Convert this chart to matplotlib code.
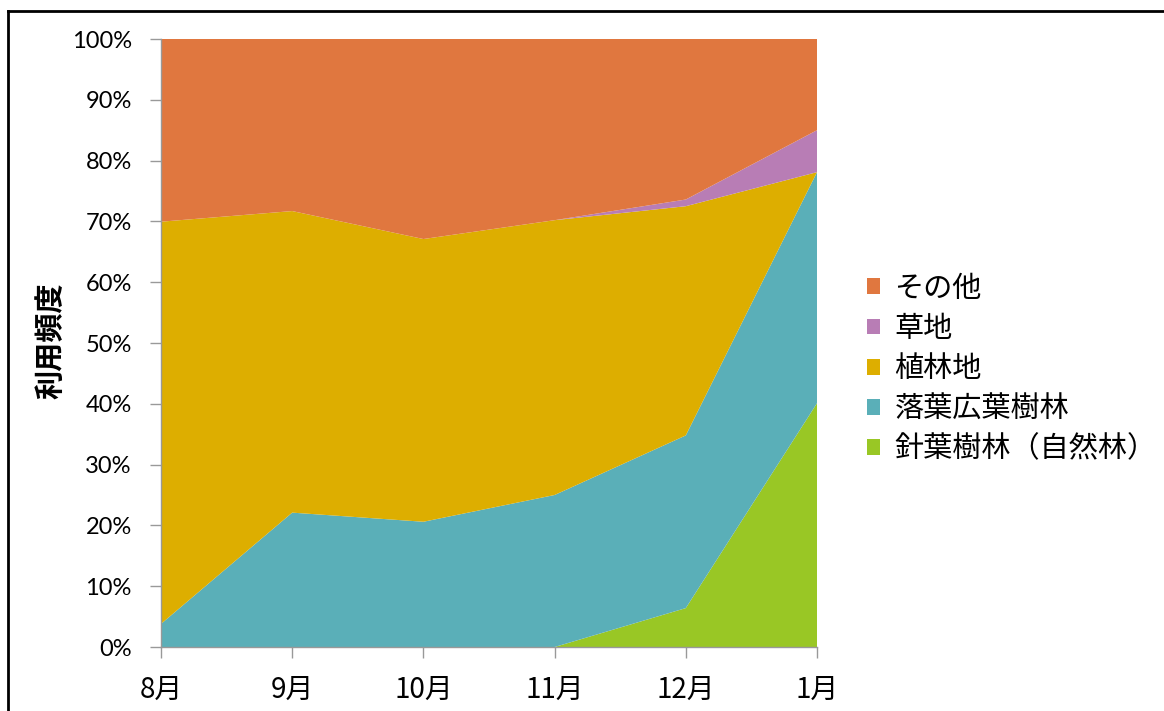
import numpy as np
import matplotlib
matplotlib.use("Agg")
import matplotlib.pyplot as plt
from matplotlib.lines import Line2D
from matplotlib.patches import Patch

plt.rcParams['font.family'] = ['Noto Sans CJK JP', 'DejaVu Sans']

# data (percent of use)
months = ["8月", "9月", "10月", "11月", "12月", "1月"]
conifer = [0, 0, 0, 0, 6.4, 40.1]          # 針葉樹林（自然林）
broadleaf = [3.8, 22.1, 20.6, 25.0, 28.4, 38.0]  # 落葉広葉樹林
plantation = [66.15, 49.6, 46.5, 45.2, 37.7, 0]  # 植林地
grass = [0, 0, 0, 0, 1.1, 6.9]             # 草地
other = [30.05, 28.3, 32.9, 29.8, 26.4, 15.0]    # その他

names = ["針葉樹林（自然林）", "落葉広葉樹林", "植林地", "草地", "その他"]
colors = ["#99C725", "#5AAFB8", "#DDAE00", "#B87DB5", "#E0773F"]

fig = plt.figure(figsize=(11.64, 7.11), dpi=100)
ax = fig.add_axes([161/1164, 1-647/711, (817-161)/1164, (647-39)/711])

x = np.arange(len(months))
ax.stackplot(x, conifer, broadleaf, plantation, grass, other,
             colors=colors, linewidth=0)

ax.set_xlim(0, len(months)-1)
ax.set_ylim(0, 100)
ax.set_yticks(np.arange(0, 101, 10))
ax.set_yticklabels(["{}%".format(v) for v in range(0, 101, 10)],
                   family=['Lato', 'DejaVu Sans'], fontsize=17)
ax.set_xticks(x)
ax.set_xticklabels(months, fontsize=20)
ax.tick_params(axis='y', length=8, width=1, color='#999999', pad=13)
ax.tick_params(axis='x', length=8, width=1, color='#999999', pad=12)

for s in ['top', 'right']:
    ax.spines[s].set_visible(False)
for s in ['left', 'bottom']:
    ax.spines[s].set_color('#999999')
    ax.spines[s].set_linewidth(1)
ax.set_axisbelow(False)

fig.text(50/1164, 1-341/711, "利用頻度", rotation=90, fontsize=21,
         fontweight='bold', ha='center', va='center')

handles = [Patch(facecolor=c, edgecolor='none') for c in colors][::-1]
fig.legend(handles, names[::-1], loc='upper left',
           bbox_to_anchor=(855/1164, 1-262/711), frameon=False,
           fontsize=21, handlelength=0.45, handleheight=0.45,
           handletextpad=0.5, labelspacing=0.35, borderaxespad=0)

# frame around chart (top and left edges visible)
fig.add_artist(Line2D([8/1164, 8/1164], [0, 1-11/711], transform=fig.transFigure,
                      color='black', lw=2))
fig.add_artist(Line2D([8/1164, 1], [1-11/711, 1-11/711], transform=fig.transFigure,
                      color='black', lw=2))

fig.savefig("out.png", dpi=100)
